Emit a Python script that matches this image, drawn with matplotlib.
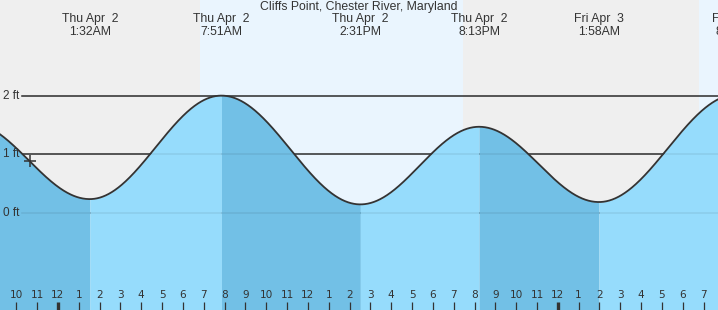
import numpy as np
import matplotlib.pyplot as plt

plt.rcParams['font.family'] = ['Liberation Sans', 'DejaVu Sans']

# tide extremes: hours after midnight Thu Apr 2, height in ft
tide_hours = [-4.3, 1.53, 7.85, 14.52, 20.22, 25.97, 32.6]
tide_ft = [1.55, 0.24, 2.0, 0.15, 1.47, 0.19, 2.02]
tide_day = ["", "Thu Apr  2", "Thu Apr  2", "Thu Apr  2", "Thu Apr  2", "Fri Apr  3", "Fri Apr  3"]
tide_time = ["", "1:32AM", "7:51AM", "2:31PM", "8:13PM", "1:58AM", "8:36AM"]

# daylight spans (sunrise, sunset) in hours
daylight = [(6.82, 19.44), (30.77, 40.0)]
now_hour = -1.35
hour_ticks = list(range(-2, 32))
ft_lines = [0, 1, 2]

W, H = 718, 310
x0, x1 = -2.78, 31.69
y0, y1 = -1.646, 3.626

night = "#efefef"
day = "#eaf5fe"
light = "#96dcfc"
dark = "#72c0e6"
ink = "#333333"


def tide_curve(t):
    out = np.zeros_like(t)
    for i in range(len(tide_hours) - 1):
        a, b = tide_hours[i], tide_hours[i + 1]
        m = (t >= a) & (t <= b)
        f = (t[m] - a) / (b - a)
        out[m] = tide_ft[i] + (tide_ft[i + 1] - tide_ft[i]) * (1 - np.cos(np.pi * f)) / 2
    return out


fig = plt.figure(figsize=(W / 100, H / 100), dpi=100)
fig.patch.set_facecolor(night)
ax = fig.add_axes([0, 0, 1, 1])
ax.set_xlim(x0, x1)
ax.set_ylim(y0, y1)
ax.axis("off")

for a, b in daylight:
    ax.axvspan(a, b, color=day, lw=0, zorder=0)

# grid lines under the water
gx = 22 / W
for v in ft_lines:
    ax.axhline(v, xmin=gx, xmax=1, color=ink, lw=1.1, zorder=1)
    ax.text(x0 + 3 / W * (x1 - x0), v, f"{v} ft", fontsize=8.5, color=ink,
            ha="left", va="center", zorder=5)

# water, dark while falling, light while rising
for i in range(len(tide_hours) - 1):
    ts = np.linspace(tide_hours[i], tide_hours[i + 1], 200)
    falling = tide_ft[i + 1] < tide_ft[i]
    ax.fill_between(ts, tide_curve(ts), y0, color=dark if falling else light,
                    lw=0, zorder=2)

for v in ft_lines:
    ax.axhline(v, xmin=gx, xmax=1, color="black", alpha=0.08, lw=1.1, zorder=3)

t = np.linspace(tide_hours[0], tide_hours[-1], 2000)
ax.plot(t, tide_curve(t), color=ink, lw=1.3, zorder=4)
ax.plot([now_hour], tide_curve(np.array([now_hour])), marker="+", ms=9, mew=1.1,
        color=ink, zorder=5)

# extreme labels
for h, d, tm in zip(tide_hours, tide_day, tide_time):
    if not d:
        continue
    ax.text(h, 1 - 19 / H, d, transform=ax.get_xaxis_transform(), fontsize=8.8,
            color=ink, ha="center", va="center")
    ax.text(h, 1 - 32 / H, tm, transform=ax.get_xaxis_transform(), fontsize=8.8,
            color=ink, ha="center", va="center")

fig.text(0.5, 1 - 7 / H, "Cliffs Point, Chester River, Maryland", fontsize=8.8,
         color=ink, ha="center", va="center")

# hour ticks along the bottom
for h in hour_ticks:
    lab = (h % 12) or 12
    ax.text(h, 14.5 / H, str(lab), transform=ax.get_xaxis_transform(), fontsize=7.6,
            family="DejaVu Sans", color=ink, ha="center", va="center")
    ax.plot([h, h], [0, 8 / H], transform=ax.get_xaxis_transform(), color=ink,
            lw=2.4 if h % 24 == 0 else 0.9, solid_capstyle="butt", zorder=5)

fig.savefig("out.png", dpi=100, facecolor=fig.get_facecolor())
